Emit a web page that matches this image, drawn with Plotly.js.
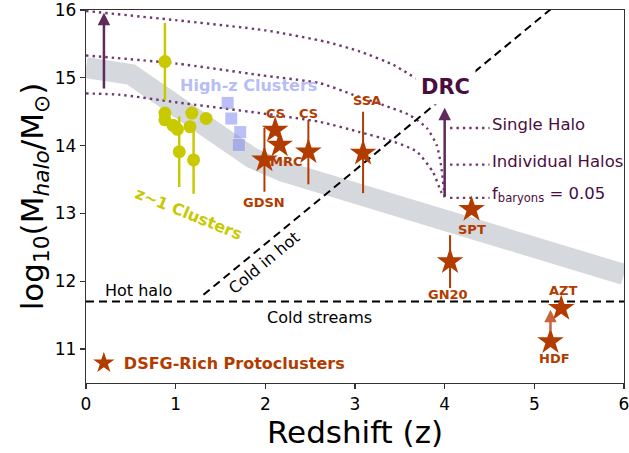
<!DOCTYPE html>
<html><head><meta charset="utf-8">
<script src="https://cdn.plot.ly/plotly-3.0.1.min.js"></script>
<style>html,body{margin:0;padding:0;background:#fff}</style>
</head><body><div id="chart" style="width:629px;height:453px"></div>
<script>
// ---- data ----
const bandZ = [0, 0.5, 1.1, 1.5, 1.85, 2.2, 3, 4, 5, 6];
const bandLogM = [15.15, 15.05, 14.5, 14.1, 13.82, 13.62, 13.3, 12.9, 12.5, 12.1];

const singleHaloZ = [0, 1, 2, 2.68, 3.05, 3.43, 3.68];
const singleHaloM = [15.985, 15.85, 15.70, 15.53, 15.39, 15.19, 14.99];
const indivHaloZ = [0, 1.01, 1.94, 2.61, 2.98, 3.31, 3.61, 3.80, 3.91, 3.96, 4.0];
const indivHaloM = [15.33, 15.21, 15.04, 14.92, 14.75, 14.60, 14.45, 14.26, 14.01, 13.71, 13.24];
const fbarZ = [0, 0.38, 1.0, 1.94, 2.61, 3.05, 3.43, 3.69, 3.87, 3.96, 4.0];
const fbarM = [14.77, 14.75, 14.64, 14.48, 14.35, 14.20, 14.06, 13.91, 13.61, 13.32, 13.24];

const hotHaloZ = [0, 6];
const hotHaloM = [11.7, 11.7];
const coldInHotZ = [1.31, 5.2];
const coldInHotM = [11.8, 16.03];

const z1Z = [0.88, 0.88, 0.88, 0.97, 1.02, 1.18, 1.16, 1.34, 1.04, 1.20];
const z1M = [15.24, 14.48, 14.38, 14.30, 14.24, 14.48, 14.28, 14.40, 13.91, 13.79];
const z1Err = [0.57, 0, 0, 0, 0, 0, 0, 0, 0.52, 0.5];

const hizZ = [1.58, 1.62, 1.72, 1.705];
const hizM = [14.63, 14.40, 14.20, 14.01];

const dsfgNames = ['GDSN', 'CS', 'MRC', 'CS', 'SSA', 'SPT', 'GN20', 'AZT', 'HDF'];
const dsfgZ = [1.99, 2.11, 2.16, 2.48, 3.09, 4.30, 4.06, 5.30, 5.18];
const dsfgM = [13.79, 14.23, 14.01, 13.91, 13.89, 13.06, 12.29, 11.60, 11.11];
const dsfgErrPlus = [0.47, 0, 0, 0.47, 0.61, 0, 0.39, 0, 0];
const dsfgErrMinus = [0.47, 0, 0, 0.48, 0.59, 0, 0.39, 0, 0];
const dsfgLabelZ = [1.99, 2.11, 2.24, 2.48, 3.13, 4.31, 4.04, 5.32, 5.22];
const dsfgLabelM = [13.16, 14.48, 13.76, 14.48, 14.66, 12.76, 11.81, 11.86, 10.86];

const drcLevels = [14.26, 13.72, 13.23];
const drcLabels = ['Single Halo', 'Individual Halos', 'f<sub>baryons</sub> = 0.05'];
const drcTickZ = [4.06, 4.5];

const arrowZ = [0.2, 4.0];
const arrowFrom = [14.82, 13.23];
const arrowTo = [15.96, 14.56];
const hdfArrowZ = 5.18, hdfArrowFrom = 11.25, hdfArrowTo = 11.58;

// ---- styling ----
const FONT = 'DejaVu Sans';
const ORANGE = '#b23c00';
const YELLOW = '#c9c900';
const LAV = 'rgba(130,140,240,0.55)';
const PURPLE = '#5f2a5c';
const DOTC = '#6d3a6b';
const DARKP = '#4b0c3e';

const traces = [];
traces.push({x: bandZ, y: bandLogM, mode: 'lines', line: {color: '#d5d8dc', width: 21}, showlegend: false, hoverinfo: 'skip'});
[[singleHaloZ, singleHaloM], [indivHaloZ, indivHaloM], [fbarZ, fbarM]].forEach(([x, y]) => {
  traces.push({x, y, mode: 'lines', line: {color: DOTC, width: 2.4, dash: '2.4px,4px', shape: 'spline', smoothing: 0.6}, showlegend: false});
});
// short dotted connectors to DRC labels
const tx = [], ty = [];
drcLevels.forEach(v => { tx.push(drcTickZ[0], drcTickZ[1], null); ty.push(v, v, null); });
traces.push({x: tx, y: ty, mode: 'lines', line: {color: DOTC, width: 2.4, dash: '2.4px,4px'}, showlegend: false});
traces.push({x: hotHaloZ, y: hotHaloM, mode: 'lines', line: {color: '#000', width: 2, dash: '8px,5px'}, showlegend: false});
traces.push({x: coldInHotZ, y: coldInHotM, mode: 'lines', line: {color: '#000', width: 2, dash: '8px,5px'}, showlegend: false});

traces.push({x: z1Z, y: z1M, mode: 'markers', marker: {color: YELLOW, size: 13, symbol: 'circle'},
  error_y: {type: 'data', array: z1Err, symmetric: true, color: YELLOW, thickness: 2.5, width: 0}, showlegend: false});
traces.push({x: hizZ, y: hizM, mode: 'markers', marker: {color: LAV, size: 12, symbol: 'square'}, showlegend: false});
traces.push({x: dsfgZ, y: dsfgM, mode: 'markers', name: '<b>DSFG-Rich Protoclusters</b>',
  marker: {color: ORANGE, size: 20, symbol: 'star'},
  error_y: {type: 'data', array: dsfgErrPlus, arrayminus: dsfgErrMinus, symmetric: false, color: ORANGE, thickness: 2, width: 0},
  showlegend: true});

const ann = [];
const T = (x, y, text, size, color, extra) => Object.assign({x, y, xref: 'x', yref: 'y', text, showarrow: false, font: {family: FONT, size, color}}, extra || {});
ann.push(T(1.81, 14.88, '<b>High-z Clusters</b>', 16, '#b8bdf7'));
ann.push(T(1.14, 13.0, '<b>z~1 Clusters</b>', 16, YELLOW, {textangle: 22}));
ann.push(T(1.99, 12.27, 'Cold in hot', 16, '#000', {textangle: -40}));
ann.push(T(0.59, 11.87, 'Hot halo', 16, '#000'));
ann.push(T(2.6, 11.47, 'Cold streams', 16, '#000'));
dsfgNames.forEach((n, i) => ann.push(T(dsfgLabelZ[i], dsfgLabelM[i], '<b>' + n + '</b>', 13, ORANGE)));
drcLabels.forEach((t, i) => ann.push(T(drcTickZ[1], drcLevels[i] + 0.05, t, 16.5, DARKP, {xanchor: 'left'})));
ann.push(T(4.01, 14.87, '<b>DRC</b>', 21, DARKP, {bgcolor: '#fff', borderpad: 5}));
// arrows
const A = (z, from, to, color) => ({x: z, y: to, ax: z, ay: from, xref: 'x', yref: 'y', axref: 'x', ayref: 'y',
  text: '', showarrow: true, arrowhead: 2, arrowsize: 1, arrowwidth: 2.5, arrowcolor: color, standoff: 0});
arrowZ.forEach((z, i) => ann.push(A(z, arrowFrom[i], arrowTo[i], PURPLE)));
ann.push(A(hdfArrowZ, hdfArrowFrom, hdfArrowTo, '#c8643c'));

const axisCommon = {showgrid: false, zeroline: false, showline: true, linecolor: '#333', linewidth: 1.2, mirror: true,
  ticks: 'outside', ticklen: 5, tickwidth: 1.2, tickcolor: '#333', ticklabeloverflow: 'allow',
  tickfont: {family: FONT, size: 17, color: '#000'}};
const layout = {
  width: 629, height: 453,
  margin: {l: 86, r: 5, t: 10, b: 70},
  paper_bgcolor: '#fff', plot_bgcolor: '#fff',
  font: {family: FONT, color: '#000'},
  xaxis: Object.assign({}, axisCommon, {range: [0, 6], tickvals: [0, 1, 2, 3, 4, 5, 6],
    title: {text: 'Redshift (z)', font: {family: FONT, size: 31}, standoff: 2}}),
  yaxis: Object.assign({}, axisCommon, {range: [10.5, 16], tickvals: [11, 12, 13, 14, 15, 16],
    title: {text: 'log<sub>10</sub>(M<sub><i>halo</i></sub>/M<sub>⊙</sub>)', font: {family: FONT, size: 31}, standoff: 2}}),
  showlegend: true,
  legend: {x: -0.004, y: 0.008, xanchor: 'left', yanchor: 'bottom', bgcolor: 'rgba(0,0,0,0)', font: {family: FONT, size: 16, color: ORANGE}},
  annotations: ann
};
Plotly.newPlot('chart', traces, layout, {staticPlot: true, displayModeBar: false});
</script></body></html>
